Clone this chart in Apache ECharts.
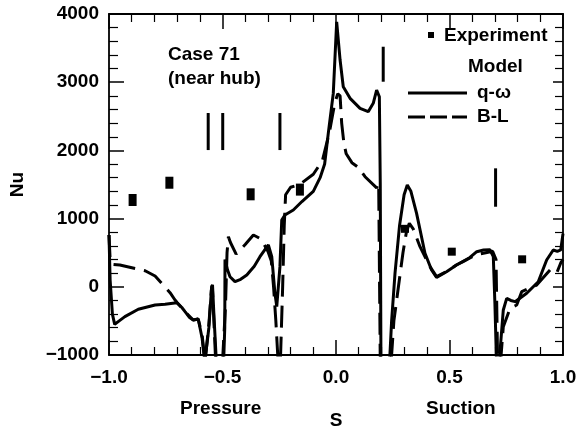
<!DOCTYPE html>
<html>
<head>
<meta charset="utf-8">
<script src="https://cdn.jsdelivr.net/npm/echarts@6/dist/echarts.min.js"></script>
<style>
  html, body { margin: 0; padding: 0; background: #fff; }
  #chart { width: 582px; height: 430px; }
</style>
</head>
<body>
<div id="chart"></div>
<script>
// Surface distance S (pressure side negative, suction side positive) vs. Nusselt number
const xTicks = [-1.0, -0.5, 0.0, 0.5, 1.0];
const yTicks = [-1000, 0, 1000, 2000, 3000, 4000];

// q-omega model prediction [S, Nu]
const qOmega = [
  [-1.0, 760], [-0.995, 100], [-0.985, -400], [-0.975, -550], [-0.955, -500], [-0.93, -438],
  [-0.871, -330], [-0.797, -267], [-0.753, -257], [-0.702, -233], [-0.68, -300],
  [-0.665, -365], [-0.645, -450], [-0.629, -487], [-0.607, -472], [-0.59, -750],
  [-0.578, -1100], [-0.56, -600], [-0.548, 0], [-0.544, 30], [-0.538, -400],
  [-0.527, -1100], [-0.495, -1100], [-0.490, -600], [-0.489, 400], [-0.478, 250],
  [-0.467, 148], [-0.445, 75], [-0.42, 110], [-0.393, 173], [-0.36, 300],
  [-0.335, 441], [-0.31, 560], [-0.298, 613], [-0.283, 441], [-0.269, -95],
  [-0.261, -291], [-0.247, 295], [-0.239, 979], [-0.225, 1053], [-0.188, 1126],
  [-0.15, 1250], [-0.10, 1400], [-0.07, 1600], [-0.05, 1800], [-0.034, 2250],
  [-0.012, 2836], [0.003, 3886], [0.018, 3325], [0.032, 2933], [0.062, 2763],
  [0.106, 2617], [0.142, 2567], [0.164, 2690], [0.179, 2885], [0.191, 2787],
  [0.195, 1500], [0.198, -1100], [0.236, -1100], [0.245, -500], [0.26, 200],
  [0.28, 900], [0.30, 1350], [0.314, 1492], [0.33, 1400], [0.355, 1077],
  [0.392, 491], [0.421, 246], [0.443, 139], [0.487, 221], [0.531, 320],
  [0.59, 430], [0.62, 515], [0.65, 540], [0.678, 545], [0.693, 441],
  [0.700, -242], [0.707, -1100], [0.719, -1100], [0.737, -340], [0.752, -169],
  [0.77, -200], [0.789, -218], [0.84, -95], [0.891, 75], [0.928, 393],
  [0.957, 540], [0.975, 520], [0.99, 540], [1.0, 780]
];

// Baldwin-Lomax model prediction [S, Nu]
const baldwinLomax = [
  [-1.0, 760], [-0.995, 400], [-0.985, 330], [-0.952, 320], [-0.841, 236],
  [-0.797, 158], [-0.731, -86], [-0.71, -190], [-0.70, -230], [-0.665, -365],
  [-0.629, -487], [-0.607, -472], [-0.59, -700], [-0.577, -1100], [-0.56, -550],
  [-0.549, -50], [-0.545, 20], [-0.540, -350], [-0.53, -1100], [-0.50, -1100],
  [-0.487, -300], [-0.480, 500], [-0.474, 735], [-0.465, 650], [-0.44, 480],
  [-0.40, 620], [-0.364, 759], [-0.33, 700], [-0.30, 520], [-0.285, 380],
  [-0.275, 0], [-0.265, -500], [-0.255, -1100], [-0.245, -1100], [-0.235, 0],
  [-0.228, 900], [-0.222, 1350], [-0.20, 1460], [-0.16, 1500], [-0.10, 1650],
  [-0.06, 1850], [-0.03, 2250], [-0.005, 2700], [0.008, 2830], [0.018, 2800],
  [0.025, 2400], [0.035, 2100], [0.045, 1950], [0.07, 1820], [0.098, 1752],
  [0.128, 1614], [0.179, 1450], [0.188, 1520], [0.192, 0], [0.195, -1100],
  [0.243, -1100], [0.255, -500], [0.275, 0], [0.295, 500], [0.31, 800],
  [0.323, 931], [0.34, 850], [0.37, 588], [0.414, 295], [0.443, 150],
  [0.487, 225], [0.53, 320], [0.56, 370], [0.60, 440], [0.63, 480],
  [0.66, 500], [0.69, 520], [0.705, 400], [0.712, -1100], [0.725, -1100],
  [0.737, -585], [0.767, -315], [0.796, -267], [0.818, -72], [0.884, 26],
  [0.943, 246], [0.972, 198], [0.99, 350], [1.0, 400]
];

// Measured Nusselt numbers
const expPressure = [[-0.896, 1273], [-0.734, 1526], [-0.376, 1356], [-0.159, 1425]];
const expSuction = [[0.304, 850], [0.51, 515], [0.82, 403]];

// Transition markers [S, Nu from, Nu to]
const transitionMarks = [
  [-0.563, 2005, 2548], [-0.499, 2005, 2548], [-0.247, 2005, 2548],
  [0.208, 3007, 3520], [0.703, 1174, 1737]
];

const FONT = '"Liberation Sans", Arial, Helvetica, sans-serif';
const fmtX = v => (v < 0 ? '\u2212' : '') + Math.abs(v).toFixed(1);
const fmtY = v => (v < 0 ? '\u2212' : '') + Math.abs(v);

const chart = echarts.init(document.getElementById('chart'), null, { renderer: 'canvas' });

// fresh style objects for every axis so nothing is shared between them
const tick = (len) => ({ show: true, inside: true, length: len, lineStyle: { color: '#000', width: 1.5 } });
const minor = (len) => ({ show: true, splitNumber: 5, length: len, lineStyle: { color: '#000', width: 1.2 } });
const line = () => ({ show: true, onZero: false, lineStyle: { color: '#000', width: 1.8 } });

chart.setOption({
  animation: false,
  backgroundColor: '#fff',
  grid: { left: 109, right: 19, top: 14, bottom: 75, show: false, containLabel: false, outerBoundsMode: 'none' },
  xAxis: [
    {
      type: 'value', min: xTicks[0], max: xTicks[xTicks.length - 1], interval: 0.5,
      axisLine: line(), axisTick: tick(15), minorTick: minor(8), splitLine: { show: false },
      axisLabel: { formatter: fmtX, color: '#000', fontFamily: FONT, fontWeight: 'bold', fontSize: 19, margin: 13 },
      name: 'S', nameLocation: 'middle', nameGap: 56,
      nameTextStyle: { color: '#000', fontFamily: FONT, fontWeight: 'bold', fontSize: 19 }
    },
    {
      type: 'value', position: 'top', min: xTicks[0], max: xTicks[xTicks.length - 1], interval: 0.5,
      axisLine: line(), axisTick: tick(15), minorTick: minor(8), splitLine: { show: false },
      axisLabel: { show: false }
    }
  ],
  yAxis: [
    {
      type: 'value', min: yTicks[0], max: yTicks[yTicks.length - 1], interval: 1000,
      axisLine: line(), axisTick: tick(15), minorTick: minor(9), splitLine: { show: false },
      axisLabel: { formatter: fmtY, color: '#000', fontFamily: FONT, fontWeight: 'bold', fontSize: 19, margin: 10 },
      name: 'Nu', nameLocation: 'middle', nameGap: 82, nameRotate: 90,
      nameTextStyle: { color: '#000', fontFamily: FONT, fontWeight: 'bold', fontSize: 19 }
    },
    {
      type: 'value', position: 'right', min: yTicks[0], max: yTicks[yTicks.length - 1], interval: 1000,
      axisLine: line(), axisTick: tick(10), minorTick: minor(8),
      splitLine: { show: false }, axisLabel: { show: false }
    }
  ],
  series: [
    {
      name: 'q-\u03c9', type: 'line', data: qOmega, showSymbol: false, symbol: 'none',
      lineStyle: { color: '#000', width: 3 }, clip: true, z: 3
    },
    {
      name: 'B-L', type: 'line', data: baldwinLomax, showSymbol: false, symbol: 'none',
      lineStyle: { color: '#000', width: 3, type: [22, 9] }, clip: true, z: 3
    },
    {
      name: 'Experiment', type: 'scatter', data: expPressure, symbol: 'rect', symbolSize: [8, 12],
      itemStyle: { color: '#000', opacity: 1 }, z: 4
    },
    {
      name: 'Experiment', type: 'scatter', data: expSuction, symbol: 'rect', symbolSize: [8, 8],
      itemStyle: { color: '#000', opacity: 1 }, z: 4
    },
    {
      name: 'Transition', type: 'custom', data: transitionMarks,
      encode: { x: 0, y: [1, 2] },
      renderItem: function (params, api) {
        const p1 = api.coord([api.value(0), api.value(1)]);
        const p2 = api.coord([api.value(0), api.value(2)]);
        return {
          type: 'line',
          shape: { x1: p1[0], y1: p1[1], x2: p2[0], y2: p2[1] },
          style: { stroke: '#000', lineWidth: 3 }
        };
      },
      z: 3
    }
  ],
  graphic: [
    // case annotation
    { type: 'text', left: 168, top: 45, style: { text: 'Case 71', fill: '#000', font: 'bold 19px ' + FONT } },
    { type: 'text', left: 168, top: 69, style: { text: '(near hub)', fill: '#000', font: 'bold 19px ' + FONT } },
    // legend
    { type: 'rect', shape: { x: 428, y: 32, width: 6, height: 6 }, style: { fill: '#000' } },
    { type: 'text', left: 444, top: 26, style: { text: 'Experiment', fill: '#000', font: 'bold 19px ' + FONT } },
    { type: 'text', left: 468, top: 57, style: { text: 'Model', fill: '#000', font: 'bold 19px ' + FONT } },
    { type: 'line', shape: { x1: 408, y1: 93, x2: 467, y2: 93 }, style: { stroke: '#000', lineWidth: 3 } },
    { type: 'text', left: 477, top: 83, style: { text: 'q-\u03c9', fill: '#000', font: 'bold 19px ' + FONT } },
    { type: 'line', shape: { x1: 408, y1: 117, x2: 467, y2: 117 }, style: { stroke: '#000', lineWidth: 3, lineDash: [17, 5] } },
    { type: 'text', left: 477, top: 107, style: { text: 'B-L', fill: '#000', font: 'bold 19px ' + FONT } },
    // side labels under the S axis
    { type: 'text', left: 180, top: 399, style: { text: 'Pressure', fill: '#000', font: 'bold 19px ' + FONT } },
    { type: 'text', left: 426, top: 399, style: { text: 'Suction', fill: '#000', font: 'bold 19px ' + FONT } }
  ]
});
</script>
</body>
</html>
